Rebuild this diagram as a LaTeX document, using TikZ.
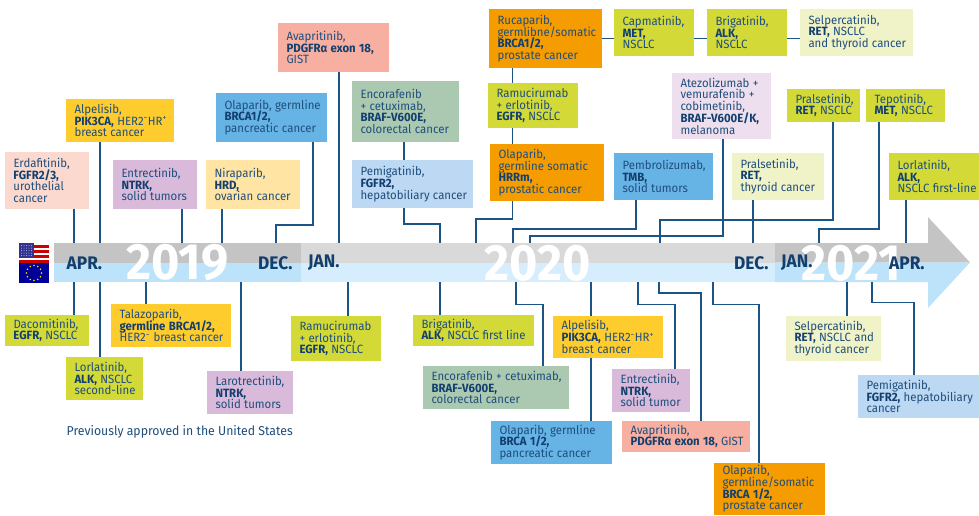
\documentclass[tikz,border=0pt]{standalone}
\usepackage{fontspec}
\setmainfont[FakeStretch=0.95]{Fira Sans}
\definecolor{txt}{HTML}{1F4E7C}
\definecolor{txb}{HTML}{123F6D}
\definecolor{lnk}{HTML}{1D5486}
\definecolor{cPeach}{HTML}{FBD9CF}
\definecolor{cGold}{HTML}{FFCC2E}
\definecolor{cLilac}{HTML}{DABADA}
\definecolor{cSand}{HTML}{FFE4A3}
\definecolor{cSky}{HTML}{66B3E5}
\definecolor{cSalmon}{HTML}{F6AFA0}
\definecolor{cSage}{HTML}{ABC9B1}
\definecolor{cPale}{HTML}{BCD8F3}
\definecolor{cOrange}{HTML}{F59C00}
\definecolor{cLime}{HTML}{D3DA38}
\definecolor{cCream}{HTML}{F0F3C8}
\definecolor{cMauve}{HTML}{EEDFEE}
\definecolor{gD}{HTML}{C4C4C4}
\definecolor{gL}{HTML}{D9D9D9}
\definecolor{bD}{HTML}{BDE3FA}
\definecolor{bL}{HTML}{D6EDFD}
\tikzset{
  x=1pt,y=-1pt,
  tlb/.style={anchor=north west,inner ysep=0pt,inner xsep=8.5pt,outer sep=0pt,text=txt,align=left},
  conn/.style={draw=lnk,line width=1.4pt,line join=miter},
  month/.style={text=txb,font=\fontsize{18.2}{19}\selectfont\bfseries,inner sep=0pt},
  year/.style={text=white,font=\fontsize{51}{52}\selectfont\bfseries,inner sep=0pt}
}
\newcommand{\tllines}[1]{\vbox{\baselineskip=11.7pt\lineskiplimit=-10pt\let\\\cr\halign{##\hfil\cr #1\crcr}}}
\newcommand{\tlbox}[7]{%
  \pgfmathsetmacro{\tlw}{#4-#2}\pgfmathsetmacro{\tlh}{#5-#3}\pgfmathsetmacro{\tlt}{#4-#2-17}%
  \node[tlb,fill=#6,minimum width=\tlw pt,minimum height=\tlh pt,text width=\tlt pt] (#1) at (#2,#3)
  {\fontsize{12}{11.7}\selectfont\tllines{#7}};}
\newcommand{\bb}[1]{\textbf{\textcolor{txb}{#1}}}
\newcommand{\sminus}{\textsuperscript{−}}
\newcommand{\splus}{\textsuperscript{+}}
\begin{document}
\begin{tikzpicture}
\useasboundingbox (0,0) rectangle (979,515);
% bar
\fill[gD] (54,243) rectangle (301,262.5);
\fill[gL] (301,243) rectangle (775,262.5);
\fill[gD] (775,243) -- (928,243) -- (928,217) -- (970,262.5) -- (775,262.5) -- cycle;
\fill[bD] (54,262.5) rectangle (301,282);
\fill[bL] (301,262.5) rectangle (775,282);
\fill[bD] (775,262.5) -- (970,262.5) -- (928,308) -- (928,282) -- (775,282) -- cycle;
% flags
\fill[white] (19,243) rectangle (49,263);
\foreach \yy in {245,250,255,260}{\fill[red!80!black] (19,\yy) rectangle (49,\yy+3.2);}
\fill[blue!45!black!80!white] (19,243) rectangle (34,258);
\foreach \xx in {21.5,24,26.5,29,31.5}{\foreach \yy in {245.5,248,250.5,253,255.5}{\fill[white!75!blue] (\xx,\yy) circle (.5);}}
\fill[blue!60!black] (19,263) rectangle (49,283);
\foreach \aa in {0,30,...,330}{\fill[yellow!85!orange] (34,273) ++(\aa:7.5) circle (.8);}
% years and months
\node[year] (y19) at (177.5,263) {2019};
\node[year] (y20) at (538,263) {2020};
\node[year] (y21) at (851.5,263) {2021};
\node[month,anchor=west] (m1) at (66.5,263) {APR.};
\node[month,anchor=west] (m2) at (258,263) {DEC.};
\node[month,anchor=west] (m3) at (308,263) {JAN.};
\node[month,anchor=west] (m4) at (734,263) {DEC.};
\node[month,anchor=west] (m5) at (781,263) {JAN.};
\node[month,anchor=west] (m6) at (889,263) {APR.};
% top boxes
\tlbox{erda}{5}{152}{89}{209}{cPeach}{Erdafitinib,\\\bb{FGFR2/3,}\\urothelial\\cancer}
\tlbox{alpT}{66}{99}{174}{142}{cGold}{Alpelisib,\\\bb{PIK3CA,} HER2\sminus HR\splus\\breast cancer}
\tlbox{entT}{113}{160}{197}{209}{cLilac}{Entrectinib,\\\bb{NTRK,}\\solid tumors}
\tlbox{nira}{206}{160}{300}{209}{cSand}{Niraparib,\\\bb{HRD,}\\ovarian cancer}
\tlbox{olaT}{216}{93}{327}{142}{cSky}{Olaparib, germline\\\bb{BRCA1/2,}\\pancreatic cancer}
\tlbox{avaT}{278}{23}{389}{72}{cSalmon}{Avapritinib,\\\bb{PDGFRα exon 18,}\\GIST}
\tlbox{encT}{352}{81}{459}{142}{cSage}{Encorafenib\\+ cetuximab,\\\bb{BRAF-V600E,}\\colorectal cancer}
\tlbox{pemT}{352}{160}{473}{208}{cPale}{Pemigatinib,\\\bb{FGFR2,}\\hepatobiliary cancer}
\tlbox{ruca}{489}{9}{602}{68}{cOrange}{Rucaparib,\\germlibne/somatic\\\bb{BRCA1/2,}\\prostate cancer}
\tlbox{ramT}{488}{83}{578}{128}{cLime}{Ramucirumab\\+ erlotinib,\\\bb{EGFR,} NSCLC}
\tlbox{olaH}{490}{144}{604}{201}{cOrange}{Olaparib,\\germline somatic\\\bb{HRRm,}\\prostatic cancer}
\tlbox{capm}{614}{9}{694}{56}{cLime}{Capmatinib,\\\bb{MET,}\\NSCLC}
\tlbox{briT}{707}{9}{787}{56}{cLime}{Brigatinib,\\\bb{ALK,}\\NSCLC}
\tlbox{selT}{800}{9}{913}{56}{cCream}{Selpercatinib,\\\bb{RET,} NSCLC\\and thyroid cancer}
\tlbox{pemb}{614}{153}{713}{200}{cSky}{Pembrolizumab,\\\bb{TMB,}\\solid tumors}
\tlbox{atez}{672}{73}{771}{139}{cMauve}{Atezolizumab +\\vemurafenib +\\cobimetinib,\\\bb{BRAF-V600E/K,}\\melanoma}
\tlbox{praT}{732}{153}{824}{200}{cCream}{Pralsetinib,\\\bb{RET,}\\thyroid cancer}
\tlbox{praN}{787}{89}{860}{122}{cLime}{Pralsetinib,\\\bb{RET,} NSCLC}
\tlbox{tepo}{866}{89}{945}{122}{cLime}{Tepotinib,\\\bb{MET,} NSCLC}
\tlbox{lorT}{889}{153}{979}{200}{cLime}{Lorlatinib,\\\bb{ALK,}\\NSCLC first-line}
% bottom boxes
\tlbox{daco}{5}{315}{89}{346}{cLime}{Dacomitinib,\\\bb{EGFR,} NSCLC}
\tlbox{lorB}{66}{357}{143}{400}{cLime}{Lorlatinib,\\\bb{ALK,} NSCLC\\second-line}
\tlbox{tala}{111}{304}{231}{347}{cGold}{Talazoparib,\\\bb{germline BRCA1/2,}\\HER2\sminus\ breast cancer}
\tlbox{laro}{207}{371}{293}{414}{cLilac}{Larotrectinib,\\\bb{NTRK,}\\solid tumors}
\tlbox{ramB}{291}{316}{381}{361}{cLime}{Ramucirumab\\+ erlotinib,\\\bb{EGFR,} NSCLC}
\tlbox{briB}{413}{315}{534}{346}{cLime}{Brigatinib,\\\bb{ALK,} NSCLC first line}
\tlbox{encB}{423}{366}{569}{409}{cSage}{Encorafenib + cetuximab,\\\bb{BRAF-V600E,}\\colorectal cancer}
\tlbox{alpB}{553}{316}{663}{358}{cGold}{Alpelisib,\\\bb{PIK3CA,} HER2\sminus HR\splus\\breast cancer}
\tlbox{olaB}{491}{421}{612}{464}{cSky}{Olaparib, germline\\\bb{BRCA 1/2,}\\pancreatic cancer}
\tlbox{entB}{612}{369}{690}{412}{cLilac}{Entrectinib,\\\bb{NTRK,}\\solid tumor}
\tlbox{avaB}{622}{421}{750}{452}{cSalmon}{Avapritinib,\\\bb{PDGFRα exon 18,} GIST}
\tlbox{olaP}{714}{463}{825}{515}{cOrange}{Olaparib,\\germline/somatic\\\bb{BRCA 1/2,}\\prostate cancer}
\tlbox{selB}{786}{316}{881}{361}{cCream}{Selpercatinib,\\\bb{RET,} NSCLC and\\thyroid cancer}
\tlbox{pemB}{858}{375}{979}{418}{cPale}{Pemigatinib,\\\bb{FGFR2,} hepatobiliary\\cancer}
\node[anchor=west,inner sep=0pt,text=txt,font=\fontsize{12.9}{14}\selectfont] (prev) at (66.5,432) {Previously approved in the United States};
% free ends on the bar
\foreach \nm/\xx in {a/74,b/100,c/182,d/222,e/276,f/339,g/440,h/476,i/513,j/530,k/660,l/753,m/819,n/906}{\coordinate (t\nm) at (\xx,243);}
\foreach \nm/\xx in {a/74,b/100,c/146,d/241,e/348,f/440,g/516,h/591,i/638,j/659,k/713,l/847,m/872}{\coordinate (s\nm) at (\xx,282);}
% top connectors
\draw[conn] (erda.south -| ta) -- (ta);
\draw[conn] (alpT.south -| tb) -- (tb);
\draw[conn] (entT.south -| tc) -- (tc);
\draw[conn] (nira.south -| td) -- (td);
\draw[conn] (olaT.south -| 313,0) -- (313,225) -| (te);
\draw[conn] (avaT.south -| tf) -- (tf);
\draw[conn] (encT.south -| 404,0) -- (pemT.north -| 404,0);
\draw[conn] (pemT.south -| 404,0) -- (404,224) -| (tg);
\draw[conn] (ruca.south -| 512.5,0) -- (ramT.north -| 512.5,0);
\draw[conn] (ramT.south -| 512.5,0) -- (olaH.north -| 512.5,0);
\draw[conn] (olaH.south -| 512.5,0) -- (512.5,219) -| (th);
\draw[conn] (ruca.east) -- (ruca.east -| capm.west);
\draw[conn] (capm.east |- ruca.east) -- (briT.west |- ruca.east);
\draw[conn] (briT.east |- ruca.east) -- (selT.west |- ruca.east);
\draw[conn] (pemb.south -| 636,0) -- (636,229) -| (ti);
\draw[conn] (atez.south -| 723,0) -- (723,236) -| (tj);
\draw[conn] (praT.south -| tl) -- (tl);
\draw[conn] (praN.south -| 833,0) -- (833,220) -| (tk);
\draw[conn] (tepo.south -| 879,0) -- (879,229) -| (tm);
\draw[conn] (lorT.south -| tn) -- (tn);
% bottom connectors
\draw[conn] (sa) -- (daco.north -| sa);
\draw[conn] (sb) -- (lorB.north -| sb);
\draw[conn] (sc) -- (tala.north -| sc);
\draw[conn] (sd) -- (laro.north -| sd);
\draw[conn] (se) -- (ramB.north -| se);
\draw[conn] (sf) -- (briB.north -| sf);
\draw[conn] (sg) |- (543,304.5) -- (encB.north -| 543,0);
\draw[conn] (sh) -- (alpB.north -| sh);
\draw[conn] (alpB.south -| sh) -- (olaB.north -| sh);
\draw[conn] (si) |- (675,304.5) -- (entB.north -| 675,0);
\draw[conn] (sj) |- (701,293) -- (avaB.north -| 701,0);
\draw[conn] (sk) |- (759,304.5) -- (olaP.north -| 759,0);
\draw[conn] (sl) -- (selB.north -| sl);
\draw[conn] (sm) |- (914,302.5) -- (pemB.north -| 914,0);
\end{tikzpicture}
\end{document}
